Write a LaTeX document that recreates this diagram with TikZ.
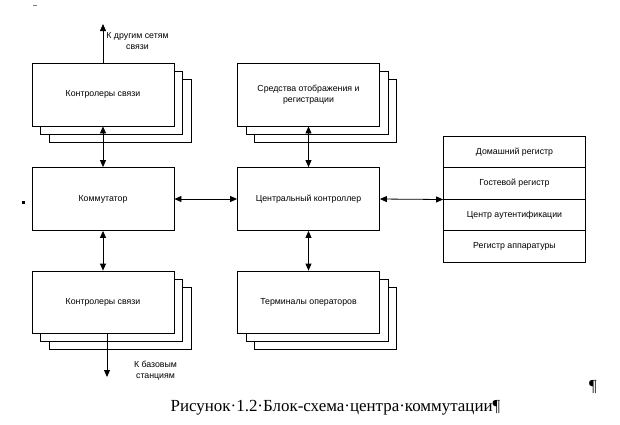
\documentclass[tikz,border=0pt]{standalone}
\usepackage{fontspec}
\setmainfont{Liberation Serif}
\newfontfamily\labelfont{Liberation Sans}
\usetikzlibrary{shadows,arrows.meta}
\begin{document}
\begin{tikzpicture}[x=1bp,y=-1bp,
  box/.style={draw=black, fill=white, line width=0.8bp, minimum width=142bp, minimum height=63bp, inner sep=2pt, font=\labelfont\fontsize{8.8}{11}\selectfont, align=center},
  stack/.style={box, double copy shadow={shadow xshift=8.5bp, shadow yshift=-8bp}},
  reg/.style={box, minimum height=31.6bp},
  conn/.style={line width=0.8bp, -{Triangle[length=7bp,width=6bp]}},
  biconn/.style={line width=0.8bp, {Triangle[length=7bp,width=6bp]}-{Triangle[length=7bp,width=6bp]}},
  note/.style={font=\labelfont\fontsize{8.8}{11}\selectfont, align=center, inner sep=0pt},
  captext/.style={font=\fontsize{17}{20}\selectfont, inner sep=0pt}]
\useasboundingbox (0,0) rectangle (620,424);
\node[stack] (kc1) at (103,94.5) {Контролеры связи};
\node[stack] (sr) at (308.5,94.5) {Средства отображения и\\регистрации};
\node[box] (kom) at (103,199) {Коммутатор};
\node[box] (cc) at (308.5,199) {Центральный контроллер};
\node[stack, minimum height=62bp] (kc2) at (103,302) {Контролеры связи};
\node[stack, minimum height=62bp] (term) at (308.5,302) {Терминалы операторов};
\node[reg] (r1) at (514.5,151.7) {Домашний регистр};
\node[reg] (r2) at (514.5,183.3) {Гостевой регистр};
\node[reg] (r3) at (514.5,214.9) {Центр аутентификации};
\node[reg] (r4) at (514.5,246.5) {Регистр аппаратуры};
\coordinate (upend) at (103,24);
\coordinate (downend) at (107,377);
\draw[conn] (kc1.north) -- (upend);
\draw[biconn] (kc1.south) -- (kom.north);
\draw[biconn] (kom.south) -- (kc2.north);
\draw[biconn] (kom.east) -- (cc.west);
\draw[biconn] (sr.south) -- (cc.north);
\draw[biconn] (cc.south) -- (term.north);
\draw[biconn] (cc.east) -- (r2.south west);
\draw[conn] (kc2.south -| downend) -- (downend);
\node[note] (lab1) at (137.5,41.5) {К другим сетям\\связи};
\node[note] (lab2) at (155.5,371) {К базовым\\станциям};
\node[captext] (cap) at (335.5,408) {Рисунок·1.2·Блок-схема·центра·коммутации¶};
\node[captext] (pil) at (593,387) {¶};
\node[fill=black, minimum size=3bp, inner sep=0pt] (sq) at (23,202) {};
\coordinate (da) at (33,5);
\coordinate (db) at (37,5);
\draw[gray, line width=0.6bp] (da) -- (db);
\end{tikzpicture}
\end{document}
